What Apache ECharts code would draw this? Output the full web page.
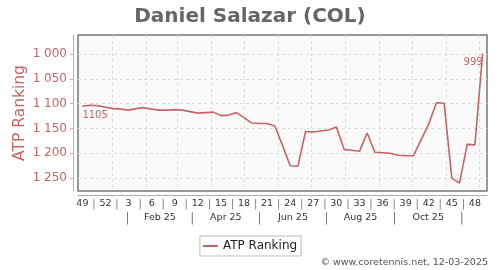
<!DOCTYPE html>
<html><head><meta charset="utf-8">
<script src="https://cdn.jsdelivr.net/npm/echarts@6/dist/echarts.min.js"></script>
<style>html,body{margin:0;padding:0;background:#fff}#c{width:500px;height:270px}</style>
</head><body><div id="c"></div>
<script>
const FONT = 'DejaVu Sans';
const LINE = '#c86464';

// weekly ranking, first point = week 49 of 2024 (plotted mid-week)
const startDate = '2024-12-05';
const rankings = [1105,1103,1104,1107,1110,1111,1113,1110,1108,1111,1113,1113,1112,1113,1116,1119,1118,1117,1124,1123,1118,1128,1139,1140,1140,1145,1184,1225,1226,1156,1157,1155,1153,1147,1192,1194,1196,1159,1198,1199,1200,1204,1205,1205,1173,1141,1098,1099,1250,1260,1182,1183,999];

// tick labels
const weekLabels = ['49','52','3','6','9','12','15','18','21','24','27','30','33','36','39','42','45','48'];
const monthStarts = ['2025-01-01','2025-02-01','2025-03-01','2025-04-01','2025-05-01','2025-06-01','2025-07-01','2025-08-01','2025-09-01','2025-10-01','2025-11-01','2025-12-01'];
const monthSeparators = ['2025-01-15','2025-03-15','2025-05-15','2025-07-15','2025-09-15','2025-11-15'];
const monthLabels = ['Feb 25','Apr 25','Jun 25','Aug 25','Oct 25'];
const yTickValues = [1000,1050,1100,1150,1200,1250];
const xRange = ['2024-12-01','2025-12-08'];
const yRange = [961.5, 1276];

const DAY = 86400000;
const t0 = Date.parse(startDate + 'T00:00:00Z');
const dayOf = s => (Date.parse(s + 'T00:00:00Z') - t0) / DAY;
const WEEK = 7;

// upper label row: week numbers every 3 weeks, separators between
const upperMap = {};
const upperVals = [];
weekLabels.forEach((w, k) => {
  const v = k * 3 * WEEK;
  upperMap[v] = '{w|' + w + '}';
  upperVals.push(v);
  if (k < weekLabels.length - 1) {
    const s = v + 1.5 * WEEK;
    upperMap[s] = '{s||}';
    upperVals.push(s);
  }
});
// lower label row: months
const lowerMap = {};
const lowerVals = [];
const sepDays = monthSeparators.map(dayOf);
sepDays.forEach((d, k) => {
  lowerMap[d] = '{s||}';
  lowerVals.push(d);
  if (k < monthLabels.length) {
    const m = (d + sepDays[k + 1]) / 2;
    lowerMap[m] = '{m|' + monthLabels[k] + '}';
    lowerVals.push(m);
  }
});

const seriesData = rankings.map((v, i) => {
  const item = { value: [i * WEEK, v] };
  if (i === 0) item.label = { show: true, position: 'bottom', align: 'left', distance: 4 };
  if (i === rankings.length - 1) item.label = { show: true, position: 'bottom', align: 'right', distance: 4 };
  return item;
});

const chart = echarts.init(document.getElementById('c'), null, { renderer: 'canvas' });
chart.setOption({
  animation: false,
  textStyle: { fontFamily: FONT },
  title: {
    text: 'Daniel Salazar (COL)', left: 'center', top: 2,
    textStyle: { fontSize: 20, fontWeight: 'bold', color: '#666', fontFamily: FONT }
  },
  grid: {
    left: 78, right: 13, top: 35, bottom: 79, show: true, containLabel: false, outerBoundsMode: 'none',
    backgroundColor: '#fafafa', borderColor: '#777', borderWidth: 1.5
  },
  legend: {
    data: ['ATP Ranking'], left: 'center', top: 236, icon: 'rect',
    itemWidth: 15, itemHeight: 2, borderColor: '#bbb', borderWidth: 1,
    padding: [4, 4, 4, 3], textStyle: { fontSize: 12, color: '#222', fontFamily: FONT }
  },
  xAxis: [{
    type: 'value', min: dayOf(xRange[0]), max: dayOf(xRange[1]), position: 'bottom', offset: 4,
    axisLine: { show: true, onZero: false, lineStyle: { color: '#aaa', width: 1 } },
    axisTick: { show: true, customValues: monthStarts.map(dayOf), length: 2, lineStyle: { color: '#ccc' } },
    splitLine: { show: true, lineStyle: { color: '#dcdcdc', type: [3, 3], width: 1 } },
    axisLabel: {
      customValues: upperVals, margin: 4,
      formatter: v => upperMap[v] || '',
      rich: {
        w: { fontSize: 9.5, color: '#333', fontFamily: FONT },
        s: { fontSize: 10, color: '#777', fontFamily: FONT }
      }
    }
  }, {
    type: 'value', min: dayOf(xRange[0]), max: dayOf(xRange[1]), position: 'bottom', offset: 19,
    axisLine: { show: false, onZero: false },
    axisTick: { show: false },
    splitLine: { show: false },
    axisLabel: {
      customValues: lowerVals, margin: 3,
      formatter: v => lowerMap[v] || '',
      rich: {
        m: { fontSize: 9.5, color: '#333', fontFamily: FONT },
        s: { fontSize: 12, color: '#777', fontFamily: FONT }
      }
    }
  }],
  yAxis: {
    type: 'value', inverse: true, min: yRange[0], max: yRange[1], offset: 5, position: 'left',
    name: 'ATP Ranking', nameLocation: 'middle', nameGap: 45, nameMoveOverlap: false,
    nameTextStyle: { color: LINE, fontSize: 15.5, fontFamily: FONT },
    axisLine: { show: true, onZero: false, lineStyle: { color: '#dba3a3', width: 1 } },
    axisTick: { show: true, customValues: yTickValues, length: 3, lineStyle: { color: '#dba3a3' } },
    axisLabel: {
      customValues: yTickValues, margin: 6, color: LINE, fontSize: 12, fontFamily: FONT,
      formatter: v => { const s = String(v); return s.length > 3 ? s.slice(0, s.length - 3) + ' ' + s.slice(-3) : s; }
    },
    splitLine: { show: true, lineStyle: { color: '#dcdcdc', type: [3, 3], width: 1 } }
  },
  series: [{
    name: 'ATP Ranking', type: 'line', xAxisIndex: 0, data: seriesData,
    symbol: 'circle', symbolSize: 0, showSymbol: true,
    lineStyle: { color: LINE, width: 1.6 },
    itemStyle: { color: LINE },
    label: { show: false, color: LINE, fontSize: 10, fontFamily: FONT },
    emphasis: { disabled: true }, silent: true
  }],
  graphic: [{
    type: 'text', right: 12, top: 258,
    style: { text: '© www.coretennis.net, 12-03-2025', fontSize: 9.5, fill: '#555', fontFamily: FONT }
  }]
});
</script></body></html>
